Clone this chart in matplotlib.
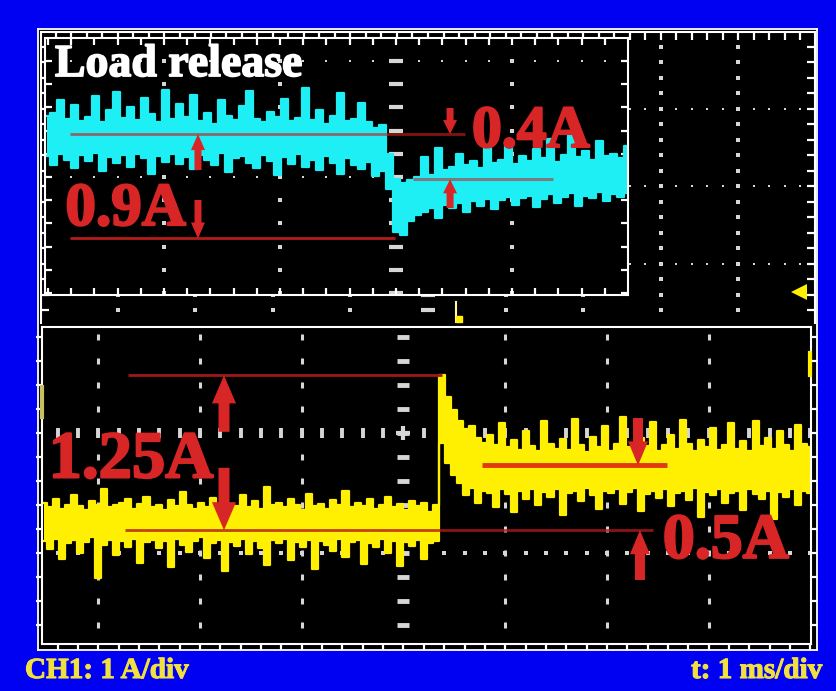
import numpy as np
import matplotlib
matplotlib.use("Agg")
import matplotlib.pyplot as plt
import matplotlib.patheffects as pe

# ---- trace data ----
# lower channel: current in A (1 A/div), time in ms (1 ms/div), 128 samples
yel_hi_before = [-0.58, -0.62, -0.55, -0.63, -0.60, -0.52, -0.61, -0.64, -0.57, -0.60,
                 -0.47, -0.62, -0.60, -0.58, -0.55, -0.63, -0.59, -0.53, -0.62, -0.60,
                 -0.64, -0.56, -0.61, -0.49, -0.60, -0.63, -0.58, -0.62, -0.54, -0.60,
                 -0.65, -0.59, -0.61, -0.52, -0.62, -0.57, -0.63, -0.45, -0.60, -0.58,
                 -0.62, -0.55, -0.60, -0.64, -0.51, -0.61, -0.59, -0.63, -0.56, -0.60,
                 -0.48, -0.62, -0.58, -0.61, -0.55, -0.63, -0.60, -0.53, -0.62, -0.59,
                 -0.64, -0.57, -0.61, -0.58, -0.66, -0.60]
yel_lo_before = [-0.90, -0.97, -0.88, -1.05, -0.92, -0.89, -1.00, -0.91, -0.87, -1.21,
                 -0.93, -0.89, -1.02, -0.90, -0.95, -0.88, -1.08, -0.91, -0.89, -0.96,
                 -0.90, -1.12, -0.88, -0.93, -0.99, -0.90, -0.87, -1.04, -0.92, -0.89,
                 -1.15, -0.91, -0.94, -0.88, -1.01, -0.90, -0.96, -1.10, -0.89, -0.92,
                 -0.88, -1.06, -0.91, -0.95, -0.89, -1.13, -0.90, -0.93, -0.98, -0.88,
                 -1.03, -0.91, -0.89, -1.09, -0.92, -0.95, -0.88, -1.00, -0.90, -1.11,
                 -0.91, -0.94, -0.89, -1.05, -0.92, -0.90]
yel_hi_after = [0.48, 0.30, 0.19, 0.10, 0.03, 0.06, -0.04, -0.08, -0.02, -0.10,
                0.08, -0.12, -0.06, -0.14, 0.02, -0.11, -0.15, 0.10, -0.09, -0.13,
                -0.05, -0.14, 0.12, -0.10, -0.16, -0.03, -0.12, 0.06, -0.15, -0.09,
                0.13, -0.12, -0.14, -0.04, -0.11, 0.09, -0.15, -0.10, -0.02, -0.13,
                0.11, -0.09, -0.15, -0.06, -0.12, 0.04, -0.14, -0.10, 0.08, -0.13,
                -0.07, -0.15, 0.10, -0.11, -0.04, -0.13, 0.02, -0.10, -0.15, 0.07,
                -0.09, -0.12]
yel_lo_after = [-0.08, -0.25, -0.35, -0.42, -0.52, -0.46, -0.58, -0.48, -0.50, -0.62,
                -0.47, -0.51, -0.66, -0.48, -0.55, -0.47, -0.60, -0.49, -0.53, -0.47,
                -0.68, -0.50, -0.48, -0.57, -0.46, -0.52, -0.63, -0.48, -0.50, -0.47,
                -0.59, -0.49, -0.46, -0.65, -0.51, -0.48, -0.54, -0.47, -0.61, -0.50,
                -0.48, -0.56, -0.46, -0.70, -0.49, -0.52, -0.47, -0.58, -0.50, -0.48,
                -0.64, -0.47, -0.51, -0.55, -0.48, -0.72, -0.49, -0.53, -0.47, -0.60,
                -0.48, -0.50]
yel_sweep = (-3.535, 3.995)           # first / last sample time, ms

# zoom window channel (cyan), 84 samples
cy_hi_before = [0.53, 0.55, 0.66, 0.50, 0.62, 0.48, 0.52, 0.70, 0.47, 0.58,
                0.73, 0.51, 0.60, 0.49, 0.68, 0.54, 0.47, 0.75, 0.50, 0.63,
                0.52, 0.71, 0.48, 0.55, 0.46, 0.66, 0.53, 0.49, 0.61, 0.74,
                0.50, 0.47, 0.56, 0.52, 0.67, 0.48, 0.51, 0.77, 0.49, 0.58,
                0.46, 0.53, 0.72, 0.48, 0.50, 0.64, 0.47, 0.42, 0.45]
cy_lo_before = [0.18, 0.10, 0.20, 0.15, 0.08, 0.19, 0.14, 0.21, 0.05, 0.17,
                0.12, 0.19, 0.09, 0.20, 0.16, 0.03, 0.18, 0.13, 0.20, 0.11,
                0.17, 0.07, 0.19, 0.15, 0.10, 0.21, 0.04, 0.16, 0.18, 0.12,
                0.08, 0.19, 0.14, 0.02, 0.17, 0.11, 0.20, 0.09, 0.15, 0.06,
                0.18, 0.12, 0.03, 0.16, 0.10, 0.07, 0.13, 0.01, 0.05]
cy_hi_after = [0.20, -0.02, -0.05, -0.03, 0.00, 0.17, 0.02, 0.25, 0.06, 0.09,
               0.20, 0.10, 0.14, 0.08, 0.27, 0.12, 0.15, 0.30, 0.11, 0.18,
               0.14, 0.24, 0.16, 0.33, 0.13, 0.19, 0.36, 0.17, 0.22, 0.15,
               0.31, 0.18, 0.20, 0.16, 0.27]
cy_lo_after = [-0.10, -0.47, -0.50, -0.38, -0.33, -0.30, -0.27, -0.35, -0.24, -0.27,
               -0.22, -0.30, -0.21, -0.25, -0.19, -0.28, -0.20, -0.17, -0.24, -0.18,
               -0.16, -0.26, -0.19, -0.15, -0.22, -0.17, -0.14, -0.25, -0.16, -0.18,
               -0.13, -0.21, -0.15, -0.17, -0.14]
cy_sweep = (-3.01, 2.0)

# measured levels
low_pre, low_peak, low_settle = -0.81, 0.48, -0.27
in_pre, in_min, in_settle = 0.37, -0.53, -0.02
low_labels = ["1.25A", "0.5A"]
in_labels = ["0.9A", "0.4A"]

BLUE = "#0000F2"
YEL = "#FFEF00"
CYAN = "#1EEFF5"
RED = "#D82626"
GRID = "#D6D6D6"
TXTYEL = "#F0E040"
SERIF = "Liberation Serif"

W, H = 837, 691
fig = plt.figure(figsize=(W / 100, H / 100), dpi=100, facecolor=BLUE)


def panel(px0, py0, px1, py1, cx=0, cy=0, sx=1, sy=1):
    ax = fig.add_axes([px0 / W, 1 - py1 / H, (px1 - px0) / W, (py1 - py0) / H])
    ax.set_xlim((px0 - cx) / sx, (px1 - cx) / sx)
    ax.set_ylim((cy - py1) / sy, (cy - py0) / sy)
    ax.set_facecolor("black")
    return ax


def fine(lo, hi, step=0.2):
    k = np.arange(np.ceil(lo / step + 1e-6), np.floor(hi / step - 1e-6) + 1)
    return np.round(k * step, 3)


def frame(ax, direction="in", length=5, **sides):
    for s in ax.spines.values():
        s.set_color("white")
        s.set_linewidth(1.5)
    ax.set_xticks([])
    ax.set_yticks([])
    ax.set_xticks(fine(*ax.get_xlim()), minor=True)
    ax.set_yticks(fine(*ax.get_ylim()), minor=True)
    ax.tick_params(which="minor", direction=direction, length=length, width=1.6,
                   color="white", labelbottom=False, labelleft=False, **sides)


def graticule(ax, xlines, ylines, ms, marker="s", dash=(10, 3)):
    xf = fine(*ax.get_xlim())
    yf = fine(*ax.get_ylim())
    for xv in xlines:
        ax.plot(np.full(len(yf), xv), yf, ls="none", marker=marker, ms=ms[0], mew=ms[1],
                mfc=GRID, mec=GRID, zorder=1)
    for yv in ylines:
        ax.plot(xf, np.full(len(xf), yv), ls="none", marker="s", ms=ms[0] * 0.6, mew=0,
                color=GRID, zorder=1)
    ax.plot(np.zeros(len(yf)), yf, ls="none", marker="_", ms=dash[0], mew=dash[1],
            color=GRID, zorder=1)


def trace(ax, sweep, hi, lo, color):
    t = np.linspace(sweep[0], sweep[1], len(hi))
    ax.fill_between(t, lo, hi, step="mid", color=color, lw=0, zorder=2)
    ax.plot(t, hi, drawstyle="steps-mid", color=color, lw=1.6, zorder=2)
    ax.plot(t, lo, drawstyle="steps-mid", color=color, lw=1.6, zorder=2)


def arrow(ax, x, y_tail, y_tip, hw, hl, tw):
    ax.annotate("", xy=(x, y_tip), xytext=(x, y_tail), zorder=5,
                arrowprops=dict(arrowstyle=f"simple,head_width={hw},head_length={hl},tail_width={tw}",
                                mutation_scale=0.72, color=RED, lw=0, shrinkA=0, shrinkB=0))


def label(ax, x, y, s, size, color=RED, stroke=1.6):
    ax.text(x, y, s, color=color, fontsize=size, fontfamily=SERIF, fontweight="bold",
            zorder=6, path_effects=[pe.withStroke(linewidth=stroke, foreground=color)])


# scope screen outline
bg = panel(38, 29, 817, 650)
bg.set_xticks([]); bg.set_yticks([])
for s in bg.spines.values():
    s.set_color("white"); s.set_linewidth(1.3)

# upper half of the screen (behind the zoom window)
up = panel(41, 32, 815, 323, 428, 186, 77.6, 77.5)
frame(up, "in", 6, top=True, right=True, left=True, bottom=False)
up.spines["bottom"].set_visible(False)
graticule(up, [-4, -3, -2, -1, 1, 2, 3, 4], [1, 0, -1], (2.4, 0))
up.plot([0.36, 0.36], [-1.50, -1.77], color="#FFF8A0", lw=1.5, zorder=3)
up.plot([0.40], [-1.72], marker="s", ms=5, color=YEL, zorder=3)
up.plot([4.78], [-1.37], marker="<", ms=11, color=YEL, mew=0, clip_on=False, zorder=3)

# lower channel panel
low = panel(42, 327, 811, 644, 403.5, 433, 101.7, 120)
frame(low, "out", 4, top=False, bottom=True, left=True, right=True)
graticule(low, [-3, -2, -1, 1, 2, 3], [-1], (4.5, 2.2), marker="|", dash=(9, 3.5))
xf = fine(*low.get_xlim())
low.plot(xf, np.zeros(len(xf)), ls="none", marker="|", ms=7, mew=2.8, color=GRID, zorder=1)
low.plot([0], [0], marker="+", ms=10, mew=3, color=GRID, zorder=1)
low.plot([-3.55, -3.55], [0.38, 0.13], color="#C8C060", lw=3, clip_on=False, zorder=3)
low.plot([4.0, 4.0], [0.67, 0.48], color=YEL, lw=3, clip_on=False, zorder=3)

trace(low, yel_sweep, yel_hi_before + yel_hi_after, yel_lo_before + yel_lo_after, YEL)

low.hlines(low_peak, -2.71, 0.38, color="#A01818", lw=2, zorder=3)
low.hlines(low_pre, -2.74, 2.45, color="#B01818", lw=2, alpha=0.8, zorder=3)
low.hlines(low_settle, 0.77, 2.59, color="#E03A10", lw=3.5, zorder=3)
arrow(low, -1.765, 0.01, low_peak, 24, 28, 11)
arrow(low, -1.765, -0.29, low_pre, 24, 28, 11)
arrow(low, 2.306, 0.125, low_settle, 20, 24, 10)
arrow(low, 2.325, -1.225, low_pre, 20, 24, 10)
label(low, -3.49, -0.37, low_labels[0], 48)
label(low, 2.55, -1.04, low_labels[1], 46)

# zoom window (cyan channel)
zin = panel(45, 38, 628, 295, 396, 177, 116, 116)
frame(zin, "in", 5, top=True, bottom=True, left=True, right=True)
graticule(zin, [-2, -1, 1], [1, 0], (3.2, 0), dash=(10, 3))
trace(zin, cy_sweep, cy_hi_before + cy_hi_after, cy_lo_before + cy_lo_after, CYAN)

zin.hlines(in_pre, -2.81, 0.595, color="#C81E1E", lw=2, alpha=0.65, zorder=3)
zin.hlines(in_min, -2.81, -0.01, color="#C81E1E", lw=2, alpha=0.9, zorder=3)
zin.hlines(in_settle, 0.147, 1.353, color="#C81E1E", lw=2.2, alpha=0.55, zorder=3)
arrow(zin, -1.707, 0.06, in_pre, 14, 16, 7)
arrow(zin, -1.707, -0.198, in_min, 14, 16, 7)
arrow(zin, 0.466, 0.595, in_pre, 14, 14, 7)
arrow(zin, 0.466, -0.267, in_settle, 14, 14, 7)
label(zin, -2.85, -0.414, in_labels[0], 44)
label(zin, 0.655, 0.259, in_labels[1], 43)
label(zin, -2.94, 0.87, "Load release", 33, color="white", stroke=1.2)

# scale captions
for x, ha, s in [(25, "left", "CH1: 1 A/div"), (822, "right", "t: 1 ms/div")]:
    fig.text(x / W, 1 - 678 / H, s, color=TXTYEL, fontsize=21, fontfamily=SERIF,
             fontweight="bold", va="baseline", ha=ha,
             path_effects=[pe.withStroke(linewidth=0.8, foreground=TXTYEL)])

fig.savefig("out.png", dpi=100, facecolor=fig.get_facecolor())
